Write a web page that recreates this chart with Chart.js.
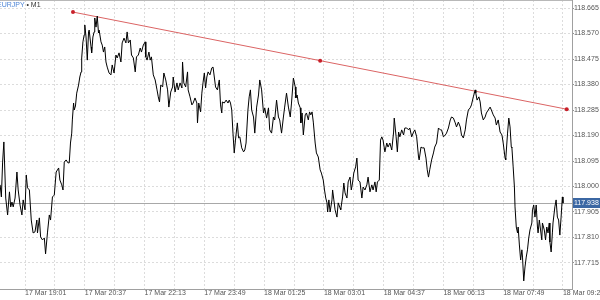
<!DOCTYPE html>
<html>
<head>
<meta charset="utf-8">
<script src="https://cdn.jsdelivr.net/npm/chart.js@4/dist/chart.umd.min.js"></script>
<style>
html,body{margin:0;padding:0;background:#fff;}
#wrap{position:relative;width:600px;height:300px;overflow:hidden;}
#title{position:absolute;left:-3px;top:0px;font:7px "Liberation Sans",Arial,sans-serif;line-height:10px;white-space:nowrap;}
#title .sym{color:#4f86d6;}
#title .tf{color:#333;}
</style>
</head>
<body>
<div id="wrap">
<canvas id="c" width="600" height="300"></canvas>
<div id="title"><span class="sym">EURJPY</span><span class="tf"> • M1</span></div>
</div>
<script>
// Minutes since 17 Mar 00:00 (M1 bars, traced)
const times = [1101,1103,1105,1107,1110,1113,1116,1118,1120,1122,1125,1128,1130,1133,1136,1138,1141,1143,1145,1148,1151,1154,1157,1160,1161,1164,1166,1169,1172,1174,1177,1180,1182,1185,1188,1191,1195,1197,1200,1202,1204,1207,1210,1212,1214,1216,1217,1219,1220,1222,
1224,1227,1229,1231,1232,1234,1236,1237,1239,1241,1243,1244,1247,1248,1250,1252,1253,1255,1257,1259,1260,1263,1265,1267,1269,1271,1273,1276,1279,1281,1284,1287,1289,1292,1295,1297,1300,1303,1305,1307,1310,1312,1315,1318,1320,1323,1326,1328,1331,1334,1335,1337,1340,
1342,1344,1347,1350,1353,1355,1357,1359,1362,1364,1367,1370,1372,1375,1378,1379,1382,1385,1387,1390,1393,1394,1396,1399,1402,1403,1406,1409,1411,1414,1417,1418,1420,1423,1425,1427,1429,1431,1433,1435,1438,1441,1443,1445,1447,1450,1453,1455,1457,1458,1461,1464,1467,1469,1471,1473,1475,1477,1479,1482,1484,1486,1489,1492,1494,1496,1499,1501,1503,1505,1508,1510,1513,1516,1518,1521,1524,1526,1529,1532,1534,1537,1540,1542,1545,1548,1550,1553,1556,1558,1561,1564,1567,1569,1572,1575,
1576,1578,1580,1583,1584,1586,1588,1591,1593,1596,1598,1600,1602,1604,1607,1609,1612,1615,1617,1620,1622,1624,1626,1627,1629,1631,1634,1635,1637,1639,1642,1644,1647,1648,1651,1653,1655,1658,1660,1663,1665,1667,1669,1672,1674,1676,1679,1682,1684,1687,1690,1692,1695,1698,1700,1703,1705,1707,1710,1712,1714,1716,1719,1722,1724,1727,1730,1733,1734,1737,1739,1741,1743,1746,1749,1751,1754,1757,1759,1762,1765,1767,1770,1773,1774,1777,1779,1782,1785,1787,1789,1791,1794,1797,1799,1802,1805,1808,
1810,1813,1816,1818,1821,1824,1826,1829,1832,1834,1837,1840,1842,1845,1848,1850,1853,1856,1858,1861,1864,1865,1867,1870,1872,1874,1877,1880,1882,1885,1888,1890,1893,1896,1898,1901,1904,1907,1909,1912,1913,1916,1918,1920,1922,1923,1925,1927,1928,1930,1932,1933,1935,1937,1939,1940,1942,1944,1946,1948,1950,1952,1955,1956,1958,1960,1962,1964,1965,1967,1969,1971,1972,1975,1977,1979,1981,1983,1984,1986,1988,1989,1992,1994,1996,1998,2000,2002,2004,2005];

const prices = [118.006,117.961,118.091,118.166,117.957,117.894,117.980,117.924,117.942,117.924,117.957,118.054,117.987,117.931,117.894,117.950,117.913,118.043,117.995,117.987,117.875,117.827,117.831,117.875,117.827,117.883,117.812,117.801,117.808,117.749,117.827,117.894,117.875,117.961,117.968,118.054,118.069,118.024,118.006,117.987,118.091,118.099,118.088,118.088,118.162,118.199,118.248,118.311,118.285,118.300,
118.348,118.378,118.408,118.427,118.479,118.539,118.565,118.602,118.557,118.471,118.576,118.583,118.520,118.498,118.557,118.576,118.628,118.594,118.635,118.572,118.583,118.539,118.527,118.501,118.520,118.464,118.445,118.423,118.416,118.453,118.423,118.490,118.479,118.498,118.464,118.535,118.553,118.535,118.576,118.535,118.546,118.490,118.479,118.427,118.483,118.490,118.516,118.501,118.527,118.539,118.483,118.471,118.501,
118.471,118.483,118.416,118.397,118.360,118.334,118.315,118.378,118.371,118.423,118.397,118.360,118.296,118.352,118.371,118.408,118.352,118.386,118.360,118.386,118.367,118.464,118.386,118.371,118.427,118.360,118.334,118.304,118.311,118.330,118.311,118.237,118.311,118.278,118.348,118.389,118.423,118.367,118.408,118.427,118.416,118.442,118.445,118.408,118.371,118.360,118.397,118.304,118.274,118.315,118.311,118.322,118.311,118.322,118.311,118.285,118.199,118.125,118.173,118.237,118.181,118.185,118.144,118.129,118.136,118.162,118.285,118.334,118.360,118.285,118.259,118.199,118.296,118.341,118.397,118.360,118.274,118.293,118.255,118.293,118.211,118.199,118.259,118.248,118.322,118.259,118.248,118.199,118.259,118.296,118.348,118.296,118.259,118.311,118.404,118.371,
118.330,118.341,118.311,118.293,118.237,118.274,118.192,118.267,118.274,118.248,118.278,118.267,118.278,118.240,118.162,118.125,118.110,118.062,118.050,118.024,117.987,117.957,117.939,117.905,117.950,117.905,117.950,117.987,117.950,117.913,117.886,117.939,117.920,117.913,117.961,118.013,117.976,117.957,118.017,118.035,117.987,118.013,118.050,118.073,118.106,118.024,118.017,117.957,117.998,117.987,118.006,118.035,117.980,118.006,117.987,118.017,117.980,118.017,118.024,118.173,118.185,118.173,118.129,118.162,118.147,118.162,118.136,118.203,118.255,118.185,118.129,118.203,118.185,118.211,118.192,118.218,118.218,118.211,118.218,118.185,118.203,118.211,118.185,118.110,118.099,118.147,118.144,118.144,118.106,118.062,118.035,118.062,118.099,118.125,118.147,118.162,118.218,118.211,
118.211,118.185,118.192,118.199,118.218,118.248,118.259,118.255,118.237,118.222,118.240,118.222,118.192,118.181,118.211,118.248,118.285,118.293,118.304,118.334,118.360,118.348,118.322,118.334,118.315,118.274,118.248,118.259,118.274,118.285,118.296,118.285,118.267,118.255,118.229,118.248,118.203,118.192,118.162,118.106,118.099,118.199,118.255,118.222,118.147,118.144,118.073,117.998,117.924,117.849,117.827,117.849,117.782,117.726,117.764,117.737,117.648,117.700,117.737,117.764,117.808,117.838,117.864,117.913,117.931,117.886,117.931,117.849,117.827,117.875,117.838,117.801,117.864,117.838,117.801,117.849,117.827,117.864,117.793,117.756,117.827,117.864,117.924,117.950,117.886,117.875,117.819,117.886,117.961,117.938];

// Trend line (3 anchor points)
const trendTimes = [1218, 1615, 2011];
const trendPrices = [118.650, 118.469, 118.288];

// Current bid price
const currentPrice = 117.938;

// Axis ticks
const priceTicks = [117.715, 117.810, 117.905, 118.000, 118.095, 118.190, 118.285, 118.380, 118.475, 118.570, 118.665];
const timeGridTicks = [1141,1189,1237,1285,1333,1381,1429,1477,1525,1573,1621,1669,1717,1765,1813,1861,1909,1957,2005];
const timeLabelTicks = [1141,1237,1333,1429,1525,1621,1717,1813,1909,2005];

const xMin = 1100.8, xMax = 2019.5;
const yMin = 117.618, yMax = 118.695;

const FONT = '"Liberation Sans", Arial, sans-serif';

function fmtTime(m) {
  const day = m < 1440 ? 17 : 18;
  const mm = m % 1440;
  const h = Math.floor(mm / 60), mi = mm % 60;
  return day + ' Mar ' + String(h).padStart(2, '0') + ':' + String(mi).padStart(2, '0');
}

const priceOverlay = {
  id: 'priceOverlay',
  beforeDatasetsDraw(chart) {
    const {ctx, chartArea, scales} = chart;
    const py = Math.round(scales.y.getPixelForValue(currentPrice)) + 0.5;
    ctx.save();
    ctx.strokeStyle = '#a8a8a8';
    ctx.lineWidth = 1;
    ctx.beginPath();
    ctx.moveTo(chartArea.left, py);
    ctx.lineTo(chartArea.right, py);
    ctx.stroke();
    ctx.strokeStyle = '#b8b8b8';
    ctx.beginPath();
    ctx.moveTo(chartArea.left, chartArea.top + 0.5);
    ctx.lineTo(chartArea.right, chartArea.top + 0.5);
    ctx.stroke();
    ctx.restore();
  },
  afterDraw(chart) {
    const {ctx, chartArea, scales, width} = chart;
    const py = Math.round(scales.y.getPixelForValue(currentPrice));
    ctx.save();
    ctx.fillStyle = '#3b67a3';
    ctx.fillRect(chartArea.right + 1, py - 5, width - chartArea.right - 1, 10);
    ctx.fillStyle = '#ffffff';
    ctx.font = '7px ' + FONT;
    ctx.textBaseline = 'middle';
    ctx.textAlign = 'left';
    ctx.fillText(currentPrice.toFixed(3), chartArea.right + 2, py + 0.5);
    ctx.restore();
  }
};

new Chart(document.getElementById('c').getContext('2d'), {
  type: 'line',
  data: {
    datasets: [
      {
        label: 'EURJPY',
        data: times.map((t, i) => ({x: t, y: prices[i]})),
        borderColor: '#000000',
        borderWidth: 1,
        pointRadius: 0,
        tension: 0,
        fill: false
      },
      {
        label: 'Trend',
        data: trendTimes.map((t, i) => ({x: t, y: trendPrices[i]})),
        borderColor: '#db6464',
        borderWidth: 1,
        pointRadius: 2,
        pointBackgroundColor: '#c8202a',
        pointBorderColor: '#c8202a',
        pointBorderWidth: 0,
        tension: 0,
        fill: false
      }
    ]
  },
  options: {
    responsive: false,
    animation: false,
    devicePixelRatio: 1,
    layout: {padding: 0, autoPadding: false},
    plugins: {legend: {display: false}, tooltip: {enabled: false}, title: {display: false}},
    scales: {
      x: {
        type: 'linear',
        position: 'bottom',
        min: xMin,
        max: xMax,
        afterBuildTicks: s => { s.ticks = timeGridTicks.map(v => ({value: v})); },
        afterFit: s => { s.height = 11; s.paddingLeft = 0; s.paddingRight = 0; },
        ticks: {
          autoSkip: false,
          maxRotation: 0,
          minRotation: 0,
          align: 'start',
          padding: 0,
          color: '#555555',
          font: {family: FONT, size: 7, lineHeight: 1.2},
          callback: v => timeLabelTicks.includes(v) ? fmtTime(v) : ''
        },
        grid: {color: '#dcdcdc', lineWidth: 1, drawTicks: false},
        border: {display: true, color: '#a0a0a0', width: 1, dash: [2, 2]}
      },
      y: {
        type: 'linear',
        position: 'right',
        min: yMin,
        max: yMax,
        afterBuildTicks: s => { s.ticks = priceTicks.map(v => ({value: v})); },
        afterFit: s => { s.width = 28; s.paddingTop = 0; s.paddingBottom = 0; },
        ticks: {
          padding: 0,
          color: '#555555',
          font: {family: FONT, size: 7, lineHeight: 1.2},
          callback: v => Number(v).toFixed(3)
        },
        grid: {color: '#dcdcdc', lineWidth: 1, drawTicks: true, tickLength: 2, tickColor: '#909090'},
        border: {display: true, color: '#a0a0a0', width: 1, dash: [2, 2]}
      }
    }
  },
  plugins: [priceOverlay]
});
</script>
</body>
</html>
